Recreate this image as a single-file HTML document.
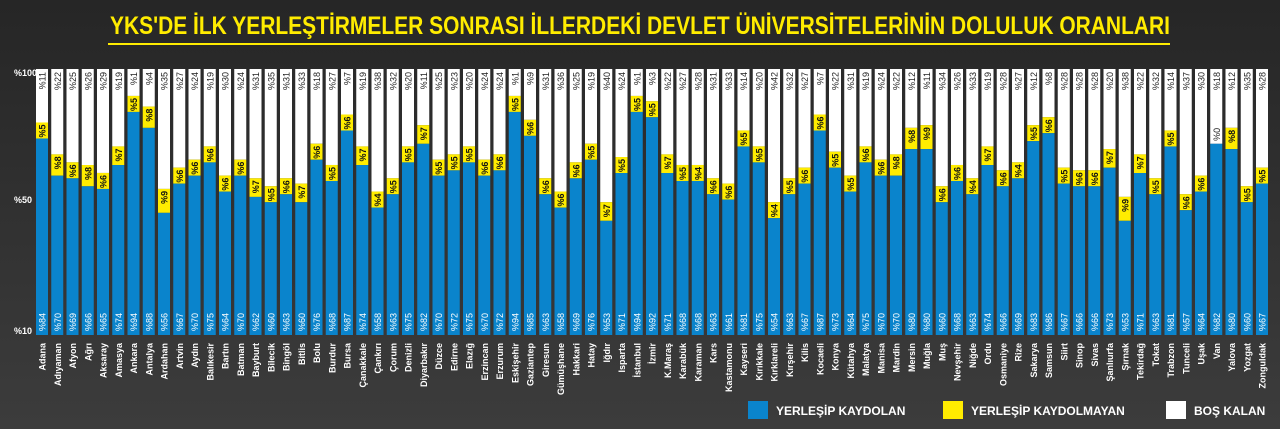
<!DOCTYPE html>
<html><head><meta charset="utf-8">
<style>
html,body{margin:0;padding:0;background:#2e2e2e;}
svg{display:block;}
text{font-family:"Liberation Sans Narrow","Liberation Sans",sans-serif;}
</style></head>
<body>
<svg id="chart" width="1280" height="429" viewBox="0 0 1280 429" xmlns="http://www.w3.org/2000/svg">
<defs>
<linearGradient id="bg" x1="0" y1="0" x2="0" y2="1">
<stop offset="0" stop-color="#262626"/><stop offset="1" stop-color="#3c3c3c"/>
</linearGradient>
</defs>
<rect x="0" y="0" width="1280" height="429" fill="url(#bg)"/>
<text x="640" y="34" text-anchor="middle" fill="#ffec00" font-weight="bold" font-size="25" textLength="1060" lengthAdjust="spacingAndGlyphs">YKS'DE İLK YERLEŞTİRMELER SONRASI İLLERDEKİ DEVLET ÜNİVERSİTELERİNİN DOLULUK ORANLARI</text>
<rect x="108" y="43" width="1062" height="2" fill="#ffec00"/>
<g id="axis"></g>
<g id="bars"></g>
<g>
<rect x="748" y="401" width="20" height="18" fill="#0a84cc"/>
<text x="776" y="415" fill="#fff" font-weight="bold" font-size="12">YERLEŞİP KAYDOLAN</text>
<rect x="943" y="401" width="20" height="18" fill="#ffec00"/>
<text x="971" y="415" fill="#fff" font-weight="bold" font-size="12">YERLEŞİP KAYDOLMAYAN</text>
<rect x="1166" y="401" width="20" height="18" fill="#ffffff"/>
<text x="1194" y="415" fill="#fff" font-weight="bold" font-size="12">BOŞ KALAN</text>
</g>
</svg>
<script>
const provinces = ["Adana","Adıyaman","Afyon","Ağrı","Aksaray","Amasya","Ankara","Antalya","Ardahan","Artvin","Aydın","Balıkesir","Bartın","Batman","Bayburt","Bilecik","Bingöl","Bitlis","Bolu","Burdur","Bursa","Çanakkale","Çankırı","Çorum","Denizli","Diyarbakır","Düzce","Edirne","Elazığ","Erzincan","Erzurum","Eskişehir","Gaziantep","Giresun","Gümüşhane","Hakkari","Hatay","Iğdır","Isparta","İstanbul","İzmir","K.Maraş","Karabük","Karaman","Kars","Kastamonu","Kayseri","Kırıkkale","Kırklareli","Kırşehir","Kilis","Kocaeli","Konya","Kütahya","Malatya","Manisa","Mardin","Mersin","Muğla","Muş","Nevşehir","Niğde","Ordu","Osmaniye","Rize","Sakarya","Samsun","Siirt","Sinop","Sivas","Şanlıurfa","Şırnak","Tekirdağ","Tokat","Trabzon","Tunceli","Uşak","Van","Yalova","Yozgat","Zonguldak"];
const enrolled = [84,70,69,66,65,74,94,88,56,67,70,75,64,70,62,60,63,60,76,68,87,74,58,63,75,82,70,72,75,70,72,94,85,63,58,69,76,53,71,94,92,71,68,68,63,61,81,75,54,63,67,87,73,64,75,70,70,80,80,60,68,63,74,66,69,83,86,67,66,66,73,53,71,63,81,57,64,82,80,60,67];
const notEnrolled = [5,8,6,8,6,7,5,8,9,6,6,6,6,6,7,5,6,7,6,5,6,7,4,5,5,7,5,5,5,6,6,5,6,6,6,6,5,7,5,5,5,7,5,4,6,6,5,5,4,5,6,6,5,5,6,6,8,8,9,6,6,4,7,6,4,5,6,5,6,6,7,9,7,5,5,6,6,0,8,5,5];
const emptySeats = [11,22,25,26,29,19,1,4,35,27,24,19,30,24,31,35,31,33,18,27,7,19,38,32,20,11,25,23,20,24,24,1,9,31,36,25,19,40,24,1,3,22,27,28,31,33,14,20,42,32,27,7,22,31,19,24,22,12,11,34,26,33,19,28,27,12,8,28,28,28,20,38,22,32,14,37,30,18,12,35,28];
const tickLabels = ["%100","%50","%10"];

const NS = "http://www.w3.org/2000/svg";
const plotTop = 69, plotBottom = 335, x0 = 42, step = 15.25, bw = 12;
function yScale(v){ return 96 + (100 - v) * ((plotBottom - 96) / 90); }
function xScale(i){ return x0 + i * step; }
function mk(tag, attrs){ const e = document.createElementNS(NS, tag); for (const k in attrs) e.setAttribute(k, attrs[k]); return e; }

const axis = document.getElementById('axis');
const tickY = [76, 203, 334];
tickLabels.forEach((t, i) => {
  const el = mk('text', {x: 14, y: tickY[i], fill: '#fff', 'font-size': 9, 'font-weight': 'bold'});
  
  
  el.textContent = t;
  axis.appendChild(el);
});

const g = document.getElementById('bars');
function vlabel(parent, x, y, txt, fill, size, bold){
  const t = mk('text', {x: 0, y: 0, fill: fill, 'font-size': size, 'text-anchor': 'end', transform: 'translate(' + (x + 3.5) + ',' + y + ') rotate(-90)'});
  if (bold) t.setAttribute('font-weight', 'bold');
  t.textContent = txt;
  parent.appendChild(t);
  return t;
}
provinces.forEach((name, i) => {
  const cx = xScale(i), left = cx - bw / 2;
  const b = enrolled[i], yv = notEnrolled[i], w = emptySeats[i];
  const grp = mk('g', {});
  
  
  const bTop = yScale(b);
  const yh = yv > 0 ? Math.max(yv * 2.66, 16) : 0;
  const yTop = bTop - yh;
  const white = mk('rect', {x: left, y: plotTop, width: bw, height: Math.max(0, yTop - plotTop), fill: '#ffffff'});
  
  
  grp.appendChild(white);
  if (yh > 0) {
    const yel = mk('rect', {x: left, y: yTop, width: bw, height: yh, fill: '#ffec00'});
    
    
    grp.appendChild(yel);
  }
  const blue = mk('rect', {x: left, y: bTop, width: bw, height: plotBottom - bTop, fill: '#0a84cc'});
  
  
  grp.appendChild(blue);
  const lw = vlabel(grp, cx, 72, '%' + w, '#222', 9, false);
  
  
  if (yh > 0) {
    const ly = vlabel(grp, cx, yTop + 2, '%' + yv, '#111', 9, true);
    
    
  } else {
    const lz = vlabel(grp, cx, bTop - 16, '%' + yv, '#222', 9, false);
    
    
  }
  const lb = vlabel(grp, cx, 313, '%' + b, '#ffffff', 9, false);
  
  
  const ln = vlabel(grp, cx, 343, name, '#ffffff', 9, true);
  
  
  g.appendChild(grp);
});
</script>
</body></html>
